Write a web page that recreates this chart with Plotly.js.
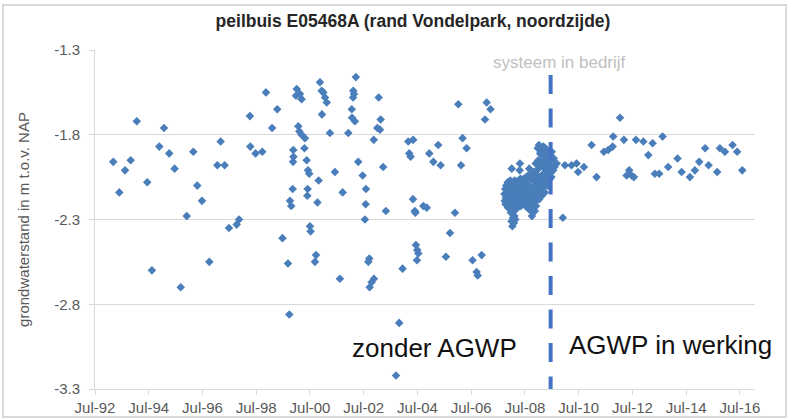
<!DOCTYPE html>
<html>
<head>
<meta charset="utf-8">
<script src="https://cdn.plot.ly/plotly-3.0.1.min.js"></script>
<style>
  html, body { margin: 0; padding: 0; background: #ffffff; }
  #wrap { position: relative; width: 787px; height: 419px; }
  #chart { position: absolute; left: 0; top: 0; width: 787px; height: 419px; }
  #frame { position: absolute; left: 2px; top: 4px; width: 781px; height: 410px;
           border: 2px solid #d9d9d9; pointer-events: none; }
</style>
</head>
<body>
<div id="wrap"><div id="chart"></div><div id="frame"></div></div>
<script>
// ---- manual measurements 1993-2007 ----
const manualDates = [
 '1993-03-06','1993-05-27','1993-08-13','1993-10-29','1994-01-20','1994-06-11','1994-08-14','1994-11-22',
 '1995-01-25','1995-04-06','1995-06-18','1995-09-09','1995-11-30','1996-02-27','1996-04-21','1996-06-24',
 '1996-10-02','1997-01-19','1997-03-05','1997-04-28','1997-06-26','1997-10-09','1997-11-10','1998-04-07',
 '1998-04-12','1998-06-23','1998-09-22','1998-11-11','1999-02-02','1999-04-13','1999-06-23','1999-09-06',
 '1999-09-24','1999-10-03','1999-10-20','1999-11-09','1999-11-14','1999-11-17','1999-11-20','1999-12-24',
 '2000-01-03','2000-01-24','2000-02-07','2000-02-16','2000-03-09','2000-03-10','2000-04-17','2000-04-24',
 '2000-05-17','2000-05-26','2000-05-30','2000-06-04','2000-06-21','2000-07-01','2000-07-10','2000-09-07',
 '2000-09-21','2000-10-11','2000-10-27','2000-11-14','2000-12-07','2000-12-11','2000-12-29','2001-01-22',
 '2001-02-14','2001-03-29','2001-06-05','2001-08-12','2001-09-18','2001-12-04','2002-01-20','2002-01-24',
 '2002-02-07','2002-02-10','2002-02-19','2002-03-04','2002-03-17','2002-04-18','2002-06-17','2002-07-18',
 '2002-07-28','2002-08-01','2002-09-02','2002-09-15','2002-09-20','2002-10-17','2002-11-15','2002-11-18',
 '2003-01-02','2003-01-21','2003-02-08','2003-02-17','2003-03-23','2003-04-29','2003-09-13','2003-10-27',
 '2003-12-12','2004-02-27','2004-03-11','2004-03-30','2004-05-01','2004-05-04','2004-05-27','2004-06-02',
 '2004-06-10','2004-06-24','2004-06-28','2004-07-12','2004-09-19','2004-11-04','2004-12-09','2005-02-02',
 '2005-04-09','2005-05-12','2005-07-23','2005-09-16','2005-11-23','2006-01-07','2006-02-13','2006-03-06',
 '2006-04-30','2006-07-20','2006-09-13','2006-09-28','2006-11-21','2007-01-05','2007-01-28','2007-03-21'
];
const manualLevels = [
 -1.96,-2.14,-2.01,-1.95,-1.72,-2.08,-2.60,-1.87,
 -1.76,-1.91,-2.00,-2.70,-2.28,-1.90,-2.10,-2.19,
 -2.55,-1.98,-1.84,-1.98,-2.35,-2.33,-2.30,-1.69,
 -1.87,-1.91,-1.90,-1.55,-1.76,-1.65,-2.41,-2.56,
 -2.86,-2.19,-2.22,-2.12,-1.96,-1.89,-1.93,-1.57,
 -1.53,-1.75,-1.78,-1.56,-1.80,-1.59,-1.88,-1.82,
 -1.95,-2.16,-2.12,-2.01,-2.03,-2.34,-2.37,-2.55,
 -2.51,-2.20,-2.07,-1.49,-1.54,-1.68,-1.55,-1.58,
 -1.61,-1.79,-2.02,-2.65,-2.14,-1.79,-1.65,-1.70,
 -1.58,-1.54,-1.56,-1.72,-1.46,-1.96,-2.04,-2.30,
 -2.21,-2.12,-2.55,-2.53,-2.70,-2.67,-1.83,-2.65,
 -1.76,-1.58,-1.77,-1.71,-1.99,-2.25,-3.22,-2.91,
 -2.59,-1.84,-1.91,-1.93,-2.18,-1.83,-2.25,-2.26,
 -2.45,-2.54,-2.48,-2.50,-2.22,-2.23,-1.91,-1.96,
 -1.86,-1.98,-2.52,-2.38,-2.26,-1.62,-1.98,-1.82,
 -1.88,-2.54,-2.61,-2.63,-2.51,-1.71,-1.61,-1.65
];

// ---- logger measurements 2007-2009 ----
const loggerDates = [
 '2007-09-26','2007-10-01','2007-10-06','2007-10-11','2007-10-16','2007-10-21','2007-10-26','2007-10-31',
 '2007-11-05','2007-11-10','2007-11-15','2007-11-20','2007-11-25','2007-11-30','2007-12-05','2007-12-10','2007-12-15',
 '2007-12-19','2007-12-23','2007-12-27','2007-12-31','2008-01-03','2008-01-04','2008-01-08','2008-01-12','2008-01-16','2008-01-20','2008-01-24',
 '2008-01-28','2008-02-01','2008-02-05','2008-02-09','2008-02-13','2008-02-17','2008-02-21','2008-02-25','2008-02-29','2008-03-04',
 '2008-03-08','2008-03-13','2008-03-18','2008-03-23','2008-03-28','2008-04-02','2008-04-07','2008-04-12',
 '2008-04-17','2008-04-20','2008-04-22','2008-04-24','2008-04-27','2008-05-02','2008-05-07','2008-05-12','2008-05-17','2008-05-22','2008-05-27',
 '2008-06-01','2008-06-06','2008-06-11','2008-06-16','2008-06-21','2008-06-26','2008-07-01','2008-07-06',
 '2008-07-10','2008-07-15','2008-07-20','2008-07-25','2008-07-30','2008-08-04','2008-08-09','2008-08-14',
 '2008-08-18','2008-08-23','2008-08-28','2008-08-29','2008-09-02','2008-09-07','2008-09-12','2008-09-17','2008-09-22','2008-09-27',
 '2008-09-30','2008-10-04','2008-10-08','2008-10-12','2008-10-16','2008-10-20','2008-10-24','2008-10-28','2008-11-01','2008-11-05',
 '2008-11-08','2008-11-12','2008-11-16','2008-11-20','2008-11-24','2008-11-28','2008-12-02','2008-12-06','2008-12-10','2008-12-14',
 '2008-12-18','2008-12-22','2008-12-26','2008-12-30','2009-01-03','2009-01-07','2009-01-11','2009-01-15','2009-01-19','2009-01-23','2009-01-27',
 '2009-01-31','2009-02-04','2009-02-08','2009-02-12','2009-02-16','2009-02-20','2009-02-24','2009-02-28','2009-03-04','2009-03-08',
 '2009-03-12','2009-03-16','2009-03-20','2009-03-24','2009-03-28','2009-04-01','2009-04-05','2009-04-09','2009-04-13','2009-04-17',
 '2009-04-21','2009-04-26','2009-05-01','2009-05-06','2009-05-11','2009-05-16','2009-05-21','2009-05-26',
 '2009-05-31','2009-06-05','2009-06-10','2009-06-15','2009-06-20','2009-06-25','2009-06-30','2009-07-05',
 '2009-07-12','2009-07-20','2009-07-28','2009-08-06','2009-08-15'
];
const loggerLevels = [
 -2.15,-2.19,-2.12,-2.21,-2.17,-2.10,-2.20,-2.14,
 -2.18,-2.08,-2.23,-2.13,-2.20,-2.10,-2.16,-2.22,-2.07,
 -2.19,-2.26,-2.12,-2.31,-2.00,-2.08,-2.23,-2.34,-2.16,-2.29,-2.10,
 -2.25,-2.32,-2.14,-2.28,-2.07,-2.21,-2.30,-2.11,-2.18,-2.24,
 -2.15,-2.08,-2.21,-2.12,-2.18,-2.07,-2.22,-2.14,
 -2.19,-2.01,-2.10,-1.97,-2.16,-2.06,-2.22,-2.13,-2.19,-2.08,-2.15,
 -2.21,-2.11,-2.17,-2.06,-2.20,-2.13,-2.09,-2.18,
 -2.22,-2.12,-2.05,-2.17,-2.09,-2.20,-2.14,-2.04,
 -2.18,-2.24,-2.10,-2.00,-2.15,-2.21,-2.06,-2.13,-2.19,-2.04,
 -2.23,-2.28,-2.12,-2.19,-2.26,-2.07,-2.16,-2.22,-2.02,-2.11,
 -2.20,-2.25,-2.05,-2.14,-1.97,-2.22,-2.09,-2.17,-2.01,-2.12,
 -2.04,-1.88,-2.15,-1.95,-2.10,-1.86,-2.18,-1.99,-2.07,-1.91,-2.13,
 -1.96,-2.12,-1.88,-2.04,-2.16,-1.92,-2.08,-1.99,-2.14,-1.87,
 -2.03,-1.91,-2.11,-1.97,-2.14,-1.88,-2.06,-1.94,-2.09,-2.00,
 -1.93,-2.07,-1.89,-2.01,-2.10,-1.96,-2.04,-1.91,
 -1.99,-2.06,-1.92,-2.02,-1.95,-2.05,-1.90,-1.98,
 -1.96,-2.01,-1.94,-1.99,-1.97
];

// ---- measurements 2009-2016 (system in operation) ----
const recentDates = [
 '2009-09-05','2009-11-28','2009-12-27','2010-03-26','2010-06-03','2010-06-24','2010-09-11','2010-12-24',
 '2011-03-01','2011-06-09','2011-08-07','2011-10-06','2011-10-14','2012-01-14','2012-03-07','2012-04-13',
 '2012-05-18','2012-06-20','2012-07-21','2012-08-18','2012-11-26','2013-02-02','2013-04-01','2013-05-02',
 '2013-06-30','2013-08-15','2013-10-30','2014-03-06','2014-04-30','2014-08-21','2014-10-28','2014-12-26',
 '2015-03-16','2015-05-02','2015-08-27','2015-10-03','2015-12-10','2016-03-23','2016-05-24','2016-08-02'
];
const recentLevels = [
 -1.97,-2.29,-1.98,-1.98,-1.97,-2.02,-1.99,-1.86,
 -2.05,-1.90,-1.89,-1.87,-1.81,-1.70,-1.83,-2.04,
 -2.01,-2.04,-2.05,-1.83,-1.84,-1.92,-1.85,-2.03,
 -2.03,-1.81,-1.99,-1.94,-2.02,-2.05,-2.01,-1.96,
 -1.88,-1.98,-2.02,-1.88,-1.90,-1.86,-1.90,-2.01
];

// ---- axes ----
const xTickDates = ['1992-07-01','1994-07-01','1996-07-01','1998-07-01','2000-07-01','2002-07-01','2004-07-01',
                    '2006-07-01','2008-07-01','2010-07-01','2012-07-01','2014-07-01','2016-07-01'];
const xTickLabels = ['Jul-92','Jul-94','Jul-96','Jul-98','Jul-00','Jul-02','Jul-04',
                     'Jul-06','Jul-08','Jul-10','Jul-12','Jul-14','Jul-16'];
const yTickValues = [-3.3, -2.8, -2.3, -1.8, -1.3];
const yTickLabels = ['-3.3', '-2.8', '-2.3', '-1.8', '-1.3'];
const startDate = '2009-06-15';          // systeem in bedrijf
const startLineTop = -1.447;

const FONT = 'Liberation Sans, Arial, sans-serif';
const markerStyle = { symbol: 'diamond', size: 6.6, color: '#4a7ebb', line: { width: 0 } };

function series(x, y) {
  return { type: 'scatter', mode: 'markers', x: x, y: y, marker: markerStyle, hoverinfo: 'x+y' };
}

const data = [
  series(manualDates, manualLevels),
  series(loggerDates, loggerLevels),
  series(recentDates, recentLevels)
];

const layout = {
  width: 787, height: 419,
  margin: { l: 95, r: 32, t: 50, b: 30 },
  paper_bgcolor: 'rgba(0,0,0,0)',
  plot_bgcolor: '#ffffff',
  showlegend: false,
  font: { family: FONT, color: '#595959' },
  title: {
    text: 'peilbuis E05468A (rand Vondelpark, noordzijde)',
    font: { family: FONT, size: 17.5, color: '#262626', weight: 'bold' },
    x: 413 / 787, xref: 'container', xanchor: 'center',
    y: 1 - 21 / 419, yref: 'container', yanchor: 'middle'
  },
  xaxis: {
    type: 'date',
    range: ['1992-07-01', '2017-01-22'],
    tickmode: 'array', tickvals: xTickDates, ticktext: xTickLabels,
    showgrid: false, zeroline: false,
    showline: true, linecolor: '#d9d9d9', linewidth: 1,
    ticks: 'outside', ticklen: 5, tickcolor: '#d9d9d9',
    tickfont: { family: FONT, size: 15, color: '#595959' }
  },
  yaxis: {
    range: [-3.3, -1.3],
    tickmode: 'array', tickvals: yTickValues, ticktext: yTickLabels,
    showgrid: true, gridcolor: '#d9d9d9', gridwidth: 1, zeroline: false,
    showline: true, linecolor: '#d9d9d9', linewidth: 1,
    ticks: 'outside', ticklen: 5, tickcolor: '#d9d9d9',
    ticklabelstandoff: 6,
    tickfont: { family: FONT, size: 15, color: '#595959' },
    title: { text: 'grondwaterstand in m t.o.v. NAP', standoff: 20,
             font: { family: FONT, size: 15, color: '#595959' } }
  },
  shapes: [{
    type: 'line', xref: 'x', yref: 'y',
    x0: startDate, x1: startDate, y0: startLineTop, y1: -3.3,
    line: { color: '#4472c4', width: 4, dash: '19px,14.5px' }, layer: 'above'
  }],
  annotations: [
    { text: 'systeem in bedrijf', xref: 'paper', yref: 'paper', x: (559 - 95) / 660, y: (389 - 63) / 339,
      xanchor: 'center', yanchor: 'middle', showarrow: false,
      font: { family: FONT, size: 17, color: '#c0c0c0' } },
    { text: 'zonder AGWP', xref: 'paper', yref: 'paper', x: (434 - 95) / 660, y: (389 - 348) / 339,
      xanchor: 'center', yanchor: 'middle', showarrow: false,
      font: { family: FONT, size: 26, color: '#111111' } },
    { text: 'AGWP in werking', xref: 'paper', yref: 'paper', x: (670 - 95) / 660, y: (389 - 345) / 339,
      xanchor: 'center', yanchor: 'middle', showarrow: false,
      font: { family: FONT, size: 26, color: '#111111' } }
  ]
};

Plotly.newPlot('chart', data, layout, { displayModeBar: false, staticPlot: false });
</script>
</body>
</html>
